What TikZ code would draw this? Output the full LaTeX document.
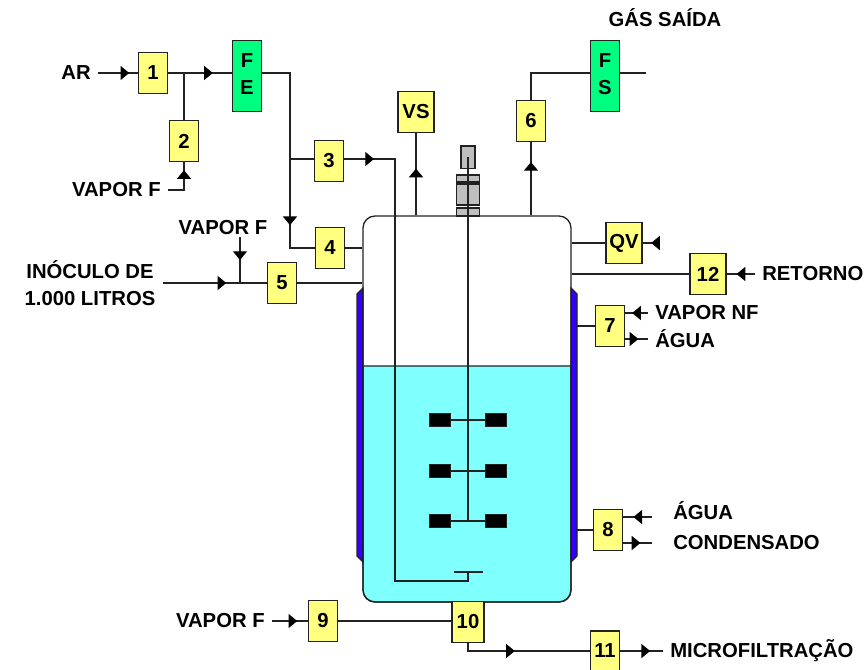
\documentclass[tikz,border=0pt]{standalone}
\usepackage{fontspec}
\setmainfont{Liberation Sans}
\usetikzlibrary{positioning}
\usetikzlibrary{arrows.meta}
\usetikzlibrary{decorations.markings}
\usepackage{xcolor}
\definecolor{boxyellow}{HTML}{FFFF80}
\definecolor{metergreen}{HTML}{00FF80}
\definecolor{liquidcyan}{HTML}{80FFFF}
\definecolor{jacketblue}{HTML}{3300FF}
\definecolor{linedark}{HTML}{222222}

\begin{document}
\begin{tikzpicture}[
		x=0.75pt, y=-0.75pt,
		% Style definitions - one unit is one pixel of the plant sketch
		line width=1pt, color=linedark,
		every node/.style={font=\bfseries\fontsize{15.2}{18}\selectfont, text=black},
		unitbox/.style={draw, fill=boxyellow, minimum width=21.5pt, minimum height=31pt, inner sep=0pt},
		widebox/.style={unitbox, minimum width=27pt},
		meter/.style={draw, fill=metergreen, minimum width=21.5pt, minimum height=53pt, inner sep=0pt, text depth=3pt, align=center, font=\bfseries\fontsize{15.2}{20}\selectfont},
		tag/.style={inner xsep=5pt, inner ysep=1pt, align=center},
		blade/.style={draw, fill=black, minimum width=16pt, minimum height=10pt, inner sep=0pt},
		motor/.style={draw, fill=black!25, inner sep=0pt},
		tipat/.style={postaction={decorate}, decoration={markings, mark=at position #1 with {\arrow[black]{Triangle[length=6.5pt, width=10.5pt]}}}},
		]
		\useasboundingbox (0,0) rectangle (864,670);

		% Liquid, jacket halves and vessel wall
		\filldraw[fill=liquidcyan] (363,366) [rounded corners=9pt] -- (363,602) -- (571,602) [sharp corners] -- (571,366) -- cycle;
		\filldraw[fill=jacketblue] (363,288) -- (357,294) -- (357,556) -- (363,562) -- cycle;
		\filldraw[fill=jacketblue] (571,288) -- (577,294) -- (577,556) -- (571,562) -- cycle;
		\node[draw, rounded corners=9pt, minimum width=156pt, minimum height=289.5pt, inner sep=0pt] (vessel) at (467,409) {};
		\coordinate (jacketR) at (577,430);

		% Row of units on the air line
		\node[unitbox] (u1) at (153,73) {1};
		\node[unitbox] (u2) at (184,141) {2};
		\node[meter] (fe) at (247,76) {F\\E};
		\node[unitbox] (u3) at (329,161) {3};
		\node[unitbox] (u4) at (330,248) {4};
		\node[unitbox] (u5) at (282,283) {5};

		% Top of the vessel
		\node[widebox] (vs) at (416,112) {VS};
		\node[unitbox] (u6) at (531,121) {6};
		\node[meter] (fs) at (605,76) {F\\S};

		% Right side and bottom
		\node[widebox] (qv) at (624,243) {QV};
		\node[widebox] (u12) at (708,274) {12};
		\node[unitbox] (u7) at (610,326) {7};
		\node[unitbox] (u8) at (608,530) {8};
		\node[unitbox] (u9) at (323,621) {9};
		\node[unitbox, minimum width=24pt] (u10) at (468,622) {10};
		\node[unitbox, minimum height=30pt] (u11) at (605,651) {11};

		% Stream labels
		\node[tag, left=30pt of u1] (ar) {AR};
		\node[tag, anchor=east] (vaporA) at (168,190) {VAPOR F};
		\node[tag, anchor=south] (vaporB) at (223,237) {VAPOR F};
		\node[tag, anchor=east] (vaporC) at (272,621) {VAPOR F};
		\node[tag, inner ysep=0pt] (inoculo) at (90,283) {IN\'OCULO DE\\[2pt]1.000 LITROS};
		\node[tag] (gas) at (665,18) {G\'AS SA\'IDA};
		\node[tag, anchor=west] (retorno) at (755,274) {RETORNO};
		\node[tag, anchor=west] (vaporNF) at (648,313) {VAPOR NF};
		\node[tag, anchor=west] (aguaA) at (648,339) {\'AGUA};
		\node[tag, anchor=west] (aguaB) at (666,511) {\'AGUA};
		\node[tag, anchor=west] (condensado) at (666,543) {CONDENSADO};
		\node[tag, anchor=west] (micro) at (663,651) {MICROFILTRA\c{C}\~AO};

		% Free ends and bends of the lines
		\coordinate (airbend) at (290,73);
		\coordinate (branch3) at (290,159);
		\coordinate (pipetop) at (395,159);
		\coordinate (pipelow) at (395,581);
		\coordinate (spargeup) at (468,581);
		\coordinate (sparge) at (468,572);
		\coordinate (spargeL) at (454,572);
		\coordinate (spargeR) at (483,572);
		\coordinate (joinB) at (240,283);
		\coordinate (fsend) at (646,73);
		\coordinate (qvend) at (658,243);
		\coordinate (aguaend) at (652,517);
		\coordinate (condend) at (652,543);

		% Agitator: motor, shaft and blades
		\node[motor, minimum width=10.5pt, minimum height=17pt] (drive) at (468,157.5) {};
		\node[motor, minimum width=17pt, minimum height=5.2pt] (sealA) at (468,178.5) {};
		\node[motor, minimum width=17pt, minimum height=15.7pt] (sealB) at (468,194.5) {};
		\node[motor, minimum width=17pt, minimum height=6pt] (sealC) at (468,212) {};
		\node[blade] (bladeL1) at (440,420) {};
		\node[blade] (bladeR1) at (496,420) {};
		\node[blade] (bladeL2) at (440,471) {};
		\node[blade] (bladeR2) at (496,471) {};
		\node[blade] (bladeL3) at (440,521) {};
		\node[blade] (bladeR3) at (496,521) {};
		\draw (drive.center) -- (bladeL3.east -| drive.center);
		\draw (bladeL1) -- (bladeR1);
		\draw (bladeL2) -- (bladeR2);
		\draw (bladeL3) -- (bladeR3);

		% Air line through the filter meter
		\draw[tipat=0.78] (ar.east) -- (u1.west);
		\draw[tipat=0.70] (u1.east) -- (u1.east -| fe.west);
		\draw (u2.north) -- (u2.north |- u1.east);
		\draw[tipat=0.82] (vaporA.east) -| (u2.south);
		\draw[tipat=0.79] (u1.east -| fe.east) -- (airbend) |- (u4.west);
		\draw (branch3) -- (branch3 -| u3.west);
		\draw[tipat=0.054] (pipetop -| u3.east) -- (pipetop) -- (pipelow) -- (spargeup) -- (sparge);
		\draw (spargeL) -- (spargeR);
		\draw (u4.east) -- (u4.east -| vessel.west);

		% Inoculum line
		\draw[tipat=0.61] (inoculo.east) -- (u5.west);
		\draw[tipat=0.5] (joinB |- vaporB.south) -- (joinB);
		\draw (u5.east) -- (u5.east -| vessel.west);

		% Outlets at the top
		\draw[tipat=0.57] (vs.south |- vessel.north) -- (vs.south);
		\draw[tipat=0.73] (u6.south |- vessel.north) -- (u6.south);
		\draw (u6.north) |- (fsend -| fs.west);
		\draw (fsend -| fs.east) -- (fsend);

		% Right side connections
		\draw[tipat=0.45] (qvend) -- (qv.east);
		\draw (qv.west) -- (qv.west -| vessel.east);
		\draw[tipat=0.65] (retorno.west) -- (u12.east);
		\draw (u12.west) -- (u12.west -| vessel.east);
		\draw (u7.west) -- (u7.west -| jacketR);
		\draw[tipat=0.69] (vaporNF.west) -- (vaporNF.west -| u7.east);
		\draw[tipat=0.58] (aguaA.west -| u7.east) -- (aguaA.west);
		\draw (u8.west) -- (u8.west -| jacketR);
		\draw[tipat=0.64] (aguaend) -- (aguaend -| u8.east);
		\draw[tipat=0.6] (condend -| u8.east) -- (condend);

		% Bottom valves
		\draw[tipat=0.7] (vaporC.east) -- (u9.west);
		\draw (u9.east) -- (u10.west |- u9.east);
		\draw[tipat=0.42] (u10.south) |- (u11.west);
		\draw[tipat=0.7] (u11.east) -- (micro.west);
	\end{tikzpicture}
\end{document}
